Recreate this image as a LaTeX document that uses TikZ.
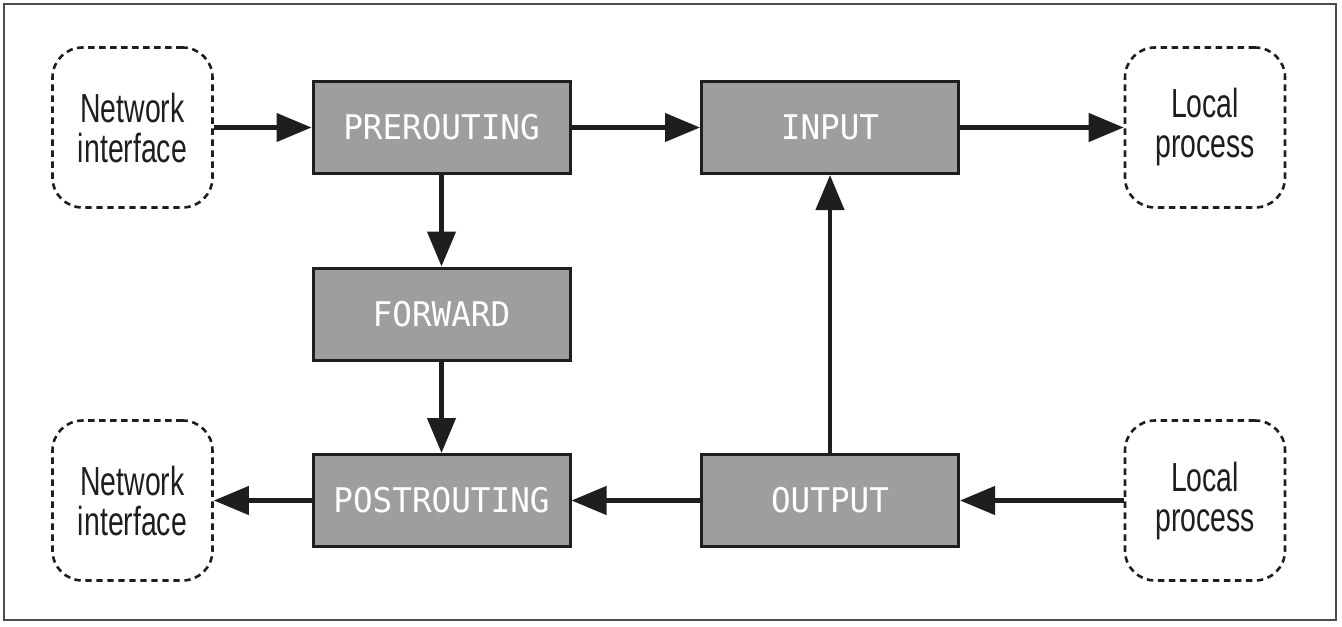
\documentclass[tikz,border=0pt]{standalone}
\usepackage{fontspec}
\usetikzlibrary{arrows.meta}
\newfontfamily\boxmono[FakeStretch=0.96]{DejaVu Sans Mono}
\newfontfamily\narrowsans[FakeStretch=0.70]{Liberation Sans}
\definecolor{boxgray}{HTML}{9E9E9E}
\definecolor{inkdark}{HTML}{1E1E1E}
\tikzset{
  chainbox/.style={draw=inkdark, line width=1.5pt, fill=boxgray,
    minimum width=128.5pt, minimum height=46pt, inner sep=0pt,
    text=white, font=\boxmono\fontsize{17}{19}\selectfont},
  endbox/.style={draw=inkdark, line width=1.3pt, dash pattern=on 3.2pt off 2.3pt,
    rounded corners=15pt, minimum width=80pt, minimum height=80pt, inner sep=0pt,
    align=center, text=inkdark, font=\narrowsans\fontsize{20.3}{20}\selectfont},
  flow/.style={draw=inkdark, line width=2.2pt,
    -{Triangle[length=17.5pt,width=14pt]}, shorten >=0pt}
}
\begin{document}
\begin{tikzpicture}[x=0.5pt,y=-0.5pt]
\useasboundingbox (0,0) rectangle (1342,626);
\draw[line width=0.8pt, draw=gray!60!black] (4,4) rectangle (1336,620);
\node[endbox] (ni1) at (132.5,127.5) {Network\\interface};
\node[endbox] (lp1) at (1205,127.5) {Local\\process};
\node[endbox] (ni2) at (132.5,500.5) {Network\\interface};
\node[endbox] (lp2) at (1205,500.5) {Local\\process};
\node[chainbox] (pre) at (441.5,127.5) {PREROUTING};
\node[chainbox] (inp) at (830,127.5) {INPUT};
\node[chainbox] (fwd) at (441.5,314) {FORWARD};
\node[chainbox] (post) at (441.5,500.5) {POSTROUTING};
\node[chainbox] (out) at (830,500.5) {OUTPUT};
\draw[flow] (ni1) -- (pre);
\draw[flow] (pre) -- (inp);
\draw[flow] (inp) -- (lp1);
\draw[flow] (pre) -- (fwd);
\draw[flow] (fwd) -- (post);
\draw[flow] (out) -- (inp);
\draw[flow] (out) -- (post);
\draw[flow] (lp2) -- (out);
\draw[flow] (post) -- (ni2);
\end{tikzpicture}
\end{document}
